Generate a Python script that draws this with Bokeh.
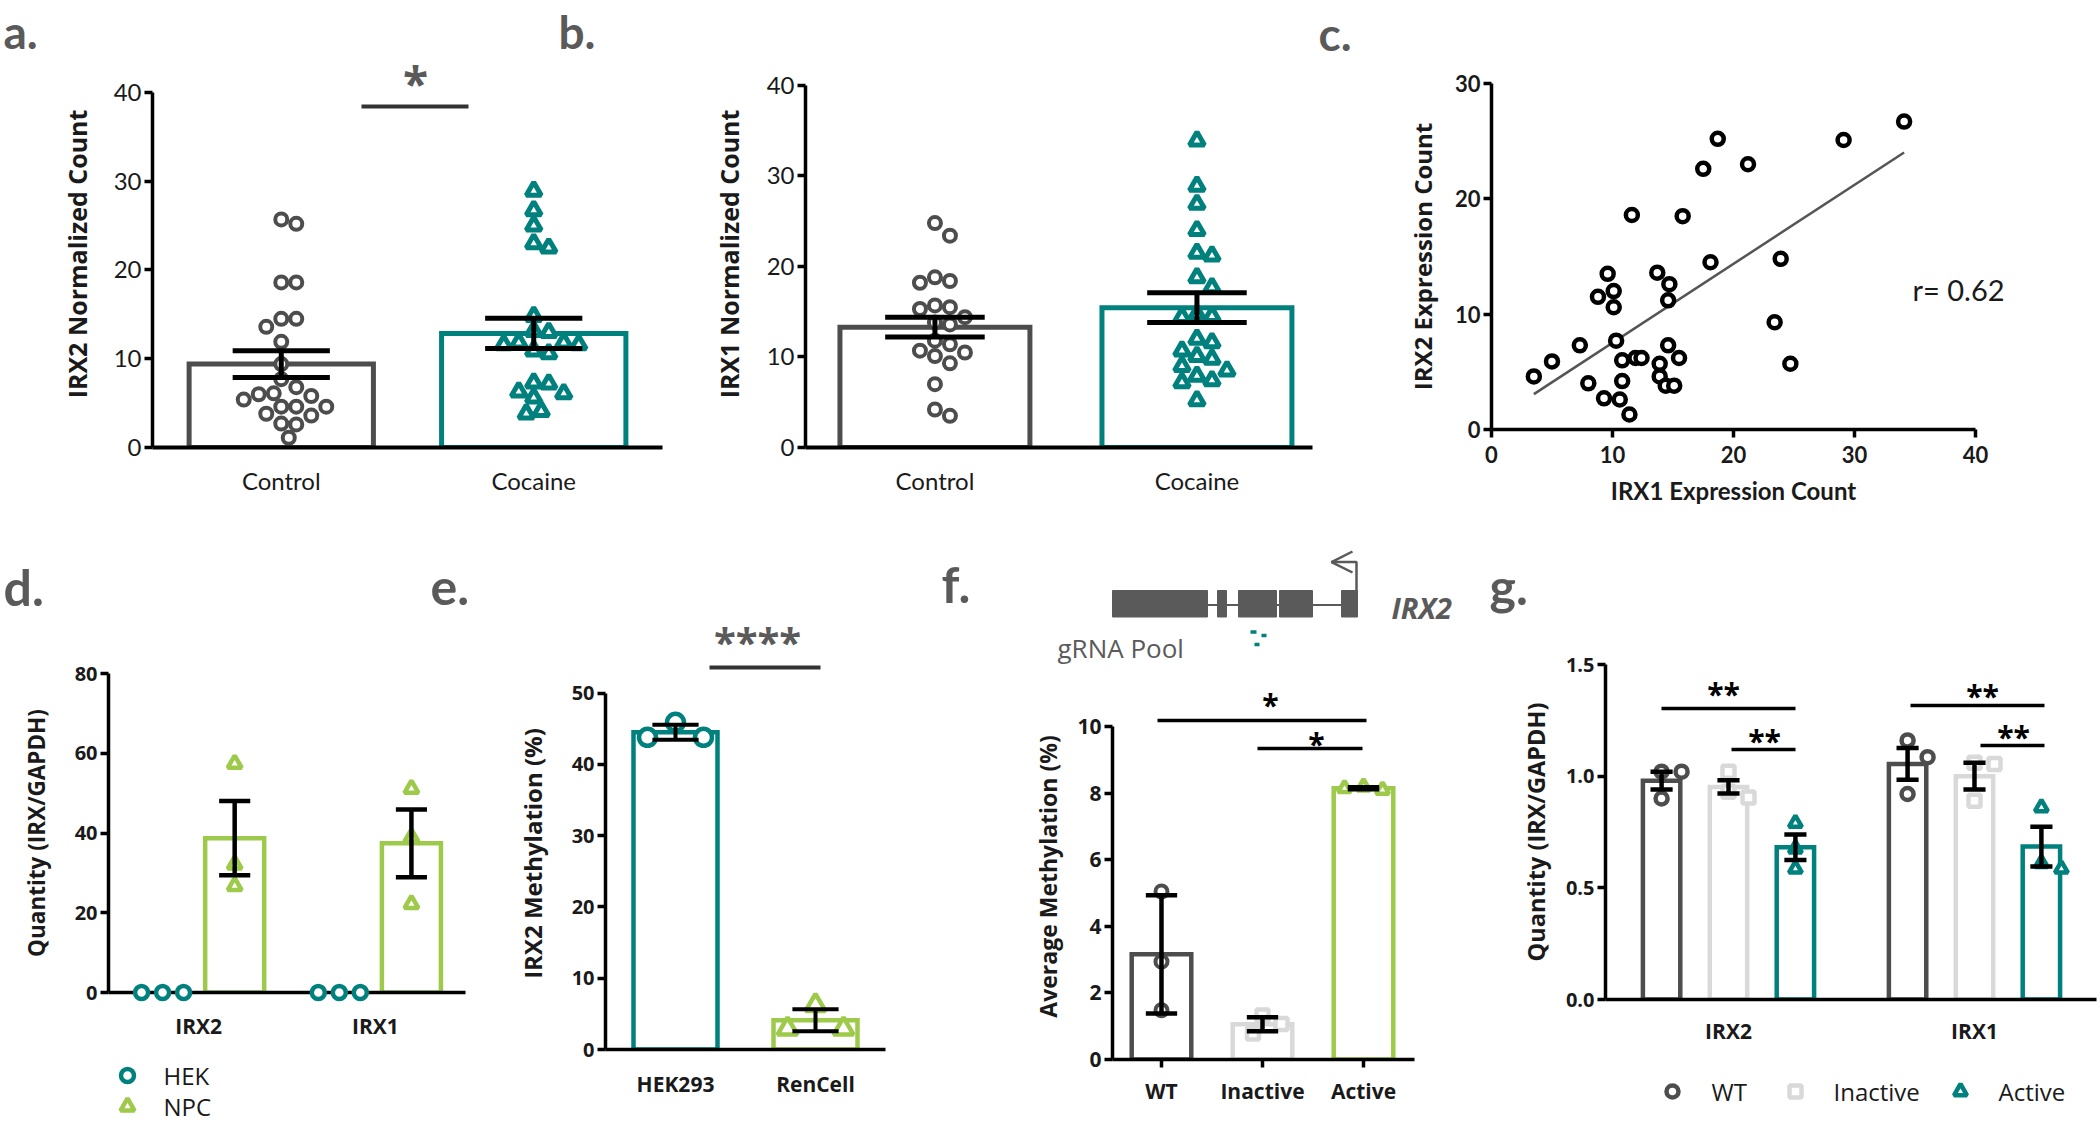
import numpy as np
from bokeh.plotting import figure
from bokeh.models import Range1d, FixedTicker, NumeralTickFormatter
from bokeh.core.properties import value
from bokeh.layouts import row, column
from bokeh.embed import file_html
from bokeh.resources import INLINE

# ---------------- data ----------------
a_categories = ["Control", "Cocaine"]
a_control = [25.7, 25.2, 18.6, 18.6, 14.5, 14.5, 13.6, 11.9, 9.4, 7.7, 6.8, 6.1, 6.0, 5.8, 5.4,
             4.6, 4.6, 4.6, 3.8, 3.6, 2.7, 2.6, 1.1]
a_cocaine = [28.9, 26.7, 25.0, 23.0, 22.5, 14.8, 13.1, 13.0, 11.8, 11.8, 11.6, 11.6, 10.9, 10.6,
             7.3, 7.2, 6.3, 6.1, 5.6, 4.1, 3.8]
a_mean = [9.4, 12.85]
a_sem = [1.5, 1.7]

b_categories = ["Control", "Cocaine"]
b_control = [24.8, 23.4, 18.8, 18.4, 18.2, 15.7, 15.5, 15.3, 14.4, 13.8, 13.6, 11.8, 11.4, 10.7,
             10.5, 10.1, 9.3, 7.0, 4.2, 3.5]
b_cocaine = [33.9, 28.9, 26.9, 24.0, 21.5, 21.2, 18.8, 17.7, 14.7, 14.5, 14.4, 12.0, 11.6, 10.7,
             10.1, 9.8, 9.0, 8.5, 7.9, 7.4, 7.2, 5.2]
b_mean = [13.3, 15.45]
b_sem = [1.1, 1.65]

c_irx1 = [3.5, 5.0, 7.3, 8.0, 8.8, 9.3, 9.6, 10.1, 10.1, 10.3, 10.6, 10.8, 10.8, 11.4, 11.6, 11.9,
          12.4, 13.7, 13.9, 13.9, 14.4, 14.6, 14.7, 14.6, 15.1, 15.5, 15.8, 17.5, 18.1, 18.7, 21.2,
          23.4, 23.9, 24.7, 29.1, 34.1]
c_irx2 = [4.6, 5.9, 7.3, 4.0, 11.5, 2.7, 13.5, 12.0, 10.6, 7.7, 2.6, 4.2, 6.0, 1.3, 18.6, 6.2,
          6.2, 13.6, 4.6, 5.7, 3.8, 11.2, 12.6, 7.3, 3.8, 6.2, 18.5, 22.6, 14.5, 25.2, 23.0,
          9.3, 14.8, 5.7, 25.1, 26.7]
c_r_text = "r= 0.62"

d_genes = ["IRX2", "IRX1"]
d_cells = ["HEK", "NPC"]
d_hek = [[0.0, 0.0, 0.0], [0.0, 0.0, 0.0]]
d_npc = [[57.4, 32.1, 26.7], [51.1, 38.9, 22.2]]
d_npc_mean = [38.7, 37.4]
d_npc_sem = [9.3, 8.5]

e_categories = ["HEK293", "RenCell"]
e_hek293 = [45.9, 43.8, 43.8]
e_rencell = [6.2, 2.9, 2.9]
e_mean = [44.5, 4.1]
e_sem = [1.05, 1.55]

f_categories = ["WT", "Inactive", "Active"]
f_wt = [5.05, 2.94, 1.48]
f_inactive = [1.32, 1.07, 0.78]
f_active = [8.2, 8.1, 8.15]
f_mean = [3.16, 1.06, 8.15]
f_sem = [1.78, 0.21, 0.03]

g_genes = ["IRX2", "IRX1"]
g_conditions = ["WT", "Inactive", "Active"]
g_wt = [[1.02, 1.02, 0.90], [1.16, 1.085, 0.92]]
g_inactive = [[1.02, 0.93, 0.905], [1.06, 1.055, 0.89]]
g_active = [[0.79, 0.675, 0.585], [0.86, 0.61, 0.585]]
g_wt_mean = [0.98, 1.055]
g_wt_sem = [0.04, 0.071]
g_inactive_mean = [0.952, 1.0]
g_inactive_sem = [0.03, 0.06]
g_active_mean = [0.682, 0.685]
g_active_sem = [0.057, 0.089]

# gene model drawing (diagram units)
gene_exon_left = [197, 302, 323, 364, 426]
gene_exon_right = [292, 311, 361, 397, 442]

# ---------------- styling ----------------
DARK = "#4d4d4d"
TEAL = "#00817e"
GREEN = "#9dca4a"
LGRAY = "#d9d9d9"
PGRAY = "#5a5a5a"
INK = "#1a1a1a"
BASE_SHIFT = 0.38   # bokeh draws 'alphabetic' text this many em lower than the true baseline


class Geo:
    def __init__(s, fl, fr, ft, fb, xr, yr):
        s.fl, s.fr, s.ft, s.fb, s.xr, s.yr = fl, fr, ft, fb, xr, yr
        s.ppx = (fr - fl) / (xr[1] - xr[0])
        s.ppy = (fb - ft) / (yr[1] - yr[0])

    def x(s, px):
        return s.xr[0] + (px - s.fl) / s.ppx

    def y(s, py):
        return s.yr[0] + (s.fb - py) / s.ppy


def make(x0, w, y0, h, fl, fr, ft, fb, xr, yr, axes=True):
    kw = dict(width=w, height=h, x_range=Range1d(*xr), y_range=Range1d(*yr),
              output_backend="svg", toolbar_location=None, tools="",
              min_border_left=fl - x0, min_border_right=x0 + w - fr,
              min_border_top=ft - y0, min_border_bottom=y0 + h - fb)
    if not axes:
        kw.update(x_axis_type=None, y_axis_type=None)
    p = figure(**kw)
    p.outline_line_color = None
    p.grid.visible = False
    p.background_fill_color = "white"
    p.border_fill_color = "white"
    return p, Geo(fl, fr, ft, fb, xr, yr)


def canvas(x0, w, y0, h):
    # axis-free figure whose data units are the picture's pixels
    return make(x0, w, y0, h, x0, x0 + w, y0, y0 + h, (0, w), (h, 0), axes=False)


def axstyle(ax, label=None, font="Open Sans", size=20, style="bold", lfont="Open Sans", lsize=22,
            lstyle="bold", tick_out=8, standoff=3, lstandoff=10, lw=3.5):
    ax.axis_line_color = "black"
    ax.axis_line_width = lw
    ax.major_tick_out = tick_out
    ax.major_tick_in = 0
    ax.major_tick_line_width = lw
    ax.major_tick_line_color = "black" if tick_out > 0 else None
    ax.minor_tick_line_color = None
    ax.major_label_text_font = font
    ax.major_label_text_font_size = f"{size}px"
    ax.major_label_text_font_style = style
    ax.major_label_text_color = INK
    ax.major_label_standoff = standoff
    if label:
        ax.axis_label = label
        ax.axis_label_text_font = lfont
        ax.axis_label_text_font_size = f"{lsize}px"
        ax.axis_label_text_font_style = lstyle
        ax.axis_label_text_color = INK
        ax.axis_label_standoff = lstandoff


def txt(p, g, px, py, text, size, font="Open Sans", style="normal", color=INK, align="center",
        baseline="middle"):
    p.text(x=[g.x(px)], y=[g.y(py)], text=[text], text_font=value(font),
           text_font_size=value(f"{size}px"), text_font_style=style, text_color=color,
           text_align=align, text_baseline=baseline, level="overlay")


def star(p, g, cx, cy, text, size, color="black"):
    # cx, cy: centre of the asterisk glyphs
    txt(p, g, cx, cy + (0.55 - BASE_SHIFT) * size, text, size, style="bold", color=color,
        baseline="alphabetic")


def panel_label(p, g, px, base_y, text, size=50):
    txt(p, g, px, base_y - BASE_SHIFT * size, text, size, font="Lato", style="bold",
        color=PGRAY, align="left", baseline="alphabetic")


def swarm(vals, g, gap):
    placed = []
    off = []
    step = gap / 2.0
    cands = [0.0]
    for k in range(1, 40):
        cands += [k * step, -k * step]
    for v in vals:
        yy = v * g.ppy
        for c in cands:
            if all((c - px) ** 2 + (yy - py) ** 2 >= gap ** 2 for px, py in placed):
                break
        placed.append((c, yy))
        off.append(c / g.ppx)
    return np.array(off)


def bars(p, xs, tops, width, colors, lw):
    p.vbar(x=list(xs), top=list(tops), bottom=0, width=width, fill_color="white",
           line_color=colors, line_width=lw, line_join="miter")


def errbars(p, xs, means, sems, cap, lw, color="black"):
    x0, y0, x1, y1 = [], [], [], []
    for x, m, s in zip(xs, means, sems):
        lo, hi = m - s, m + s
        x0 += [x, x - cap / 2, x - cap / 2]
        x1 += [x, x + cap / 2, x + cap / 2]
        y0 += [lo, lo, hi]
        y1 += [hi, lo, hi]
    p.segment(x0, y0, x1, y1, line_color=color, line_width=lw, line_cap="butt")


def points(p, g, x, vals, marker, size, color, lw, gap, level="glyph"):
    off = swarm(vals, g, gap)
    return p.scatter(x + off, vals, marker=marker, size=size, line_color=color, line_width=lw,
                     fill_color="white", level=level)


def sig(p, g, px0, px1, py, lw=3.5, color="black"):
    p.segment([g.x(px0)], [g.y(py)], [g.x(px1)], [g.y(py)], line_color=color, line_width=lw,
              line_cap="butt", level="overlay")


def legend_entry(p, g, mx, my, marker, color, size, lw, label, tx):
    p.scatter([g.x(mx)], [g.y(my)], marker=marker, size=size, line_color=color, line_width=lw,
              fill_color="white")
    txt(p, g, tx, my, label, 24, align="left")


# ================= panel a =================
pA, gA = make(0, 665, 0, 540, 152, 662, 60, 447, (0.49, 2.51), (0, 43.6))
ax_a = np.arange(1, len(a_categories) + 1)
bars(pA, ax_a, a_mean, 0.73, [DARK, TEAL], 5)
points(pA, gA, 1, a_control, "circle", 12, DARK, 4, 15)
points(pA, gA, 2, a_cocaine, "triangle", 15, TEAL, 5, 15)
errbars(pA, ax_a, a_mean, a_sem, 0.385, 5)
sig(pA, gA, 361, 468, 106, lw=4, color="#333333")
star(pA, gA, 415, 75, "*", 46, color=PGRAY)
axstyle(pA.xaxis[0], font="Lato", size=24, style="normal", tick_out=0, standoff=18, lw=4)
pA.xaxis[0].ticker = FixedTicker(ticks=list(ax_a))
pA.xaxis[0].major_label_overrides = {int(i): c for i, c in zip(ax_a, a_categories)}
axstyle(pA.yaxis[0], "IRX2 Normalized Count", font="Lato", size=24, style="normal", lsize=25,
        lstandoff=17, lw=3.5)
pA.yaxis[0].ticker = FixedTicker(ticks=[0, 10, 20, 30, 40])
pA.yaxis[0].bounds = (0, 40)
panel_label(pA, gA, 3, 48, "a.", 46)
panel_label(pA, gA, 558, 48, "b.", 46)

# ================= panel b =================
pB, gB = make(665, 651, 0, 540, 805, 1312, 60, 447, (0.506, 2.441), (0, 42.76))
ax_b = np.arange(1, len(b_categories) + 1)
bars(pB, ax_b, b_mean, 0.725, [DARK, TEAL], 5)
points(pB, gB, 1, b_control, "circle", 12, DARK, 4, 15)
points(pB, gB, 2, b_cocaine, "triangle", 15, TEAL, 5, 15)
errbars(pB, ax_b, b_mean, b_sem, 0.38, 5)
axstyle(pB.xaxis[0], font="Lato", size=24, style="normal", tick_out=0, standoff=18, lw=4)
pB.xaxis[0].ticker = FixedTicker(ticks=list(ax_b))
pB.xaxis[0].major_label_overrides = {int(i): c for i, c in zip(ax_b, b_categories)}
axstyle(pB.yaxis[0], "IRX1 Normalized Count", font="Lato", size=24, style="normal", lsize=25,
        lstandoff=18, lw=3.5)
pB.yaxis[0].ticker = FixedTicker(ticks=[0, 10, 20, 30, 40])
pB.yaxis[0].bounds = (0, 40)

# ================= panel c =================
pC, gC = make(1316, 784, 0, 540, 1491, 1975, 83, 429, (0, 40), (0, 30))
coef = np.polyfit(c_irx1, c_irx2, 1)
xs_fit = np.array([min(c_irx1), max(c_irx1)])
pC.line(xs_fit, np.polyval(coef, xs_fit), line_color="#555555", line_width=2.5)
pC.scatter(c_irx1, c_irx2, marker="circle", size=12, line_color="black", line_width=4.5,
           fill_color="white", level="overlay")
txt(pC, gC, 1958, 289, c_r_text, 29, font="Lato")
axstyle(pC.xaxis[0], "IRX1 Expression Count", font="Lato", size=22, style="bold", lfont="Lato",
        lsize=24, standoff=8, lstandoff=10)
pC.xaxis[0].ticker = FixedTicker(ticks=[0, 10, 20, 30, 40])
axstyle(pC.yaxis[0], "IRX2 Expression Count", font="Lato", size=22, style="bold", lsize=24,
        standoff=3, lstandoff=13)
pC.yaxis[0].ticker = FixedTicker(ticks=[0, 10, 20, 30])
panel_label(pC, gC, 1318, 50, "c.", 46)

# ================= panel d =================
pD, gD = make(0, 490, 540, 510, 108, 465, 673, 992, (0.49, 2.51), (0, 80))
ax_d = np.arange(1, len(d_genes) + 1)
dx = 0.204
bars(pD, ax_d + dx, d_npc_mean, 0.334, GREEN, 4.5)
for i, x in enumerate(ax_d):
    points(pD, gD, x - dx, d_hek[i], "circle", 13, TEAL, 4.5, 21, level="overlay")
    points(pD, gD, x + dx, d_npc[i], "triangle", 14, GREEN, 4.5, 1)
errbars(pD, ax_d + dx, d_npc_mean, d_npc_sem, 0.176, 4.5)
axstyle(pD.xaxis[0], font="Open Sans", size=21, style="bold", tick_out=0, standoff=19)
pD.xaxis[0].ticker = FixedTicker(ticks=list(ax_d))
pD.xaxis[0].major_label_overrides = {int(i): c for i, c in zip(ax_d, d_genes)}
axstyle(pD.yaxis[0], "Quantity (IRX/GAPDH)", size=20, lsize=22.5, lstandoff=20)
pD.yaxis[0].ticker = FixedTicker(ticks=[0, 20, 40, 60, 80])
panel_label(pD, gD, 3, 605, "d.")
panel_label(pD, gD, 430, 605, "e.")

pDl, gDl = canvas(0, 490, 1050, 75)
legend_entry(pDl, gDl, 127, 1075, "circle", TEAL, 13, 4.5, d_cells[0], 163)
legend_entry(pDl, gDl, 127, 1106, "triangle", GREEN, 14, 4.5, d_cells[1], 163)

# ================= panel e =================
pE, gE = make(490, 425, 540, 585, 605, 885, 657, 1049, (0.5, 2.5), (0, 55))
ax_e = np.arange(1, len(e_categories) + 1)
bars(pE, ax_e, e_mean, 0.6, [TEAL, GREEN], 4.5)
points(pE, gE, 1, e_hek293, "circle", 17, TEAL, 4.5, 28)
points(pE, gE, 2, e_rencell, "triangle", 20, GREEN, 4.5, 28)
errbars(pE, ax_e, e_mean, e_sem, 0.33, 4)
sig(pE, gE, 709, 820, 667, lw=4, color="#333333")
star(pE, gE, 757, 634, "****", 40, color=PGRAY)
axstyle(pE.xaxis[0], font="Open Sans", size=21, style="bold", tick_out=0, standoff=20)
pE.xaxis[0].ticker = FixedTicker(ticks=list(ax_e))
pE.xaxis[0].major_label_overrides = {int(i): c for i, c in zip(ax_e, e_categories)}
axstyle(pE.yaxis[0], "IRX2 Methylation (%)", size=20, lsize=24, lstandoff=20)
pE.yaxis[0].ticker = FixedTicker(ticks=[0, 10, 20, 30, 40, 50])
pE.yaxis[0].bounds = (0, 50)

# ================= panel f : gene model =================
pFg, gFg = canvas(915, 565, 540, 125)
pFg.segment([gene_exon_right[0]], [64.5], [gene_exon_left[-1]], [64.5], line_color=PGRAY,
            line_width=2)
pFg.quad(left=gene_exon_left, right=gene_exon_right, top=[50] * 5, bottom=[76.5] * 5,
         fill_color=PGRAY, line_color=PGRAY, line_width=1)
pFg.line([441, 441, 416], [50, 21.6, 21.6], line_color=PGRAY, line_width=2.5)
pFg.line([437, 416, 437], [11, 21.6, 32], line_color=PGRAY, line_width=2.5)
pFg.segment([335, 346, 339], [91.5, 95, 104], [341, 351, 344], [91.5, 95, 104],
            line_color=TEAL, line_width=3.5)
txt(pFg, gFg, 1391, 607, "IRX2", 29, style="bold italic", color=PGRAY, align="left")
txt(pFg, gFg, 1057, 647, "gRNA Pool", 26, color=PGRAY, align="left")
panel_label(pFg, gFg, 941, 602, "f.")

# ================= panel f : bars =================
pF, gF = make(915, 565, 665, 460, 1112, 1414, 693, 1059, (0.515, 3.505), (0, 11))
ax_f = np.arange(1, len(f_categories) + 1)
bars(pF, ax_f, f_mean, 0.59, [DARK, LGRAY, GREEN], 4.5)
points(pF, gF, 1, f_wt, "circle", 12, DARK, 4, 19)
points(pF, gF, 2, f_inactive, "square", 12, LGRAY, 4.5, 19)
points(pF, gF, 3, f_active, "triangle", 13, GREEN, 4.5, 19)
errbars(pF, ax_f, f_mean, f_sem, 0.31, 4.5)
sig(pF, gF, 1157, 1366, 720)
sig(pF, gF, 1257, 1362, 748)
star(pF, gF, 1270, 699, "*", 30)
star(pF, gF, 1316, 738, "*", 30)
axstyle(pF.xaxis[0], font="Open Sans", size=21, style="bold", tick_out=8, standoff=9)
pF.xaxis[0].ticker = FixedTicker(ticks=list(ax_f))
pF.xaxis[0].major_label_overrides = {int(i): c for i, c in zip(ax_f, f_categories)}
axstyle(pF.yaxis[0], "Average Methylation (%)", size=21, lsize=23, lstandoff=10)
pF.yaxis[0].ticker = FixedTicker(ticks=[0, 2, 4, 6, 8, 10])
pF.yaxis[0].bounds = (0, 10)

# ================= panel g =================
pG, gG = make(1480, 620, 540, 520, 1605, 2096, 664, 999, (0.5, 2.496), (0, 1.5))
ax_g = np.arange(1, len(g_genes) + 1)
go = 0.272
bars(pG, ax_g - go, g_wt_mean, 0.152, DARK, 4.5)
bars(pG, ax_g, g_inactive_mean, 0.152, LGRAY, 4.5)
bars(pG, ax_g + go, g_active_mean, 0.152, TEAL, 4.5)
for i, x in enumerate(ax_g):
    points(pG, gG, x - go, g_wt[i], "circle", 12, DARK, 4.5, 20)
    points(pG, gG, x, g_inactive[i], "square", 12, LGRAY, 4.5, 20)
    points(pG, gG, x + go, g_active[i], "triangle", 13, TEAL, 4.5, 20)
errbars(pG, ax_g - go, g_wt_mean, g_wt_sem, 0.09, 4.5)
errbars(pG, ax_g, g_inactive_mean, g_inactive_sem, 0.09, 4.5)
errbars(pG, ax_g + go, g_active_mean, g_active_sem, 0.09, 4.5)
sig(pG, gG, 1661, 1795, 708)
sig(pG, gG, 1731, 1795, 749)
sig(pG, gG, 1910, 2044, 705)
sig(pG, gG, 1980, 2044, 745)
for cx, cy in [(1723, 688), (1764, 735), (1982, 690), (2013, 731)]:
    star(pG, gG, cx, cy, "**", 30)
axstyle(pG.xaxis[0], font="Open Sans", size=21, style="bold", tick_out=0, standoff=17)
pG.xaxis[0].ticker = FixedTicker(ticks=list(ax_g))
pG.xaxis[0].major_label_overrides = {int(i): c for i, c in zip(ax_g, g_genes)}
axstyle(pG.yaxis[0], "Quantity (IRX/GAPDH)", size=20, lsize=23.5, lstandoff=11)
pG.yaxis[0].ticker = FixedTicker(ticks=[0, 0.5, 1.0, 1.5])
pG.yaxis[0].formatter = NumeralTickFormatter(format="0.0")
panel_label(pG, gG, 1489, 604, "g.")

pGl, gGl = canvas(1480, 620, 1060, 65)
legend_entry(pGl, gGl, 1672, 1091, "circle", DARK, 12, 4.5, g_conditions[0], 1711)
legend_entry(pGl, gGl, 1795, 1091, "square", LGRAY, 12, 4.5, g_conditions[1], 1833)
legend_entry(pGl, gGl, 1960, 1091, "triangle", TEAL, 13, 4.5, g_conditions[2], 1998)

# each plot wrapped on its own so that Bokeh does not align their frames
layout = column(
    row(column(pA), column(pB), column(pC)),
    row(column(column(pD), column(pDl)), column(pE), column(column(pFg), column(pF)),
        column(column(pG), column(pGl))),
)
open("out.html", "w").write(file_html(layout, INLINE))
